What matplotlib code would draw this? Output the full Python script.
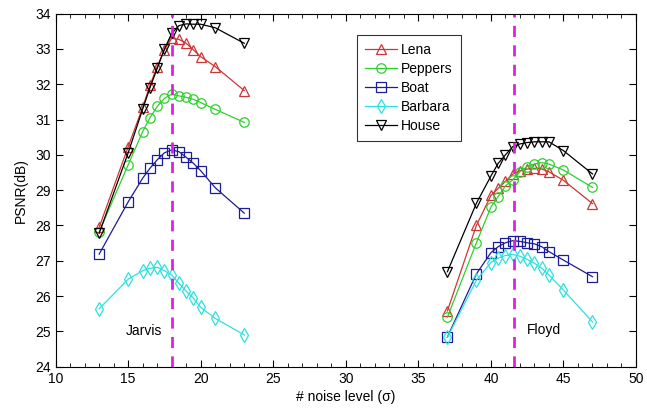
import matplotlib
matplotlib.use("Agg")
import matplotlib.pyplot as plt
from matplotlib.ticker import MultipleLocator

plt.rcParams['font.family'] = ['Liberation Sans', 'DejaVu Sans']

# noise levels for the two methods
x_jarvis = [13, 15, 16, 16.5, 17, 17.5, 18, 18.5, 19, 19.5, 20, 21, 23]
x_floyd = [37, 39, 40, 40.5, 41, 41.5, 42, 42.5, 43, 43.5, 44, 45, 47]

lena_j = [27.95, 30.23, 31.35, 31.97, 32.5, 32.98, 33.3, 33.27, 33.16, 32.97, 32.78, 32.5, 31.82]
peppers_j = [27.82, 29.72, 30.66, 31.05, 31.37, 31.6, 31.72, 31.67, 31.63, 31.57, 31.48, 31.29, 30.92]
boat_j = [27.19, 28.67, 29.34, 29.62, 29.86, 30.06, 30.14, 30.09, 29.93, 29.76, 29.55, 29.07, 28.35]
barbara_j = [25.64, 26.48, 26.72, 26.79, 26.82, 26.72, 26.6, 26.36, 26.14, 25.94, 25.68, 25.37, 24.9]
house_j = [27.78, 30.06, 31.3, 31.9, 32.45, 33.0, 33.44, 33.66, 33.71, 33.7, 33.7, 33.6, 33.16]

lena_f = [25.58, 28.0, 28.85, 29.05, 29.25, 29.45, 29.55, 29.6, 29.62, 29.6, 29.52, 29.28, 28.62]
peppers_f = [25.4, 27.51, 28.52, 28.82, 29.12, 29.29, 29.52, 29.67, 29.74, 29.78, 29.74, 29.57, 29.08]
boat_f = [24.84, 26.63, 27.23, 27.4, 27.51, 27.57, 27.55, 27.51, 27.48, 27.4, 27.26, 27.02, 26.55]
barbara_f = [24.83, 26.45, 26.95, 27.08, 27.15, 27.18, 27.13, 27.04, 26.93, 26.79, 26.6, 26.17, 25.27]
house_f = [26.69, 28.63, 29.4, 29.76, 30.0, 30.23, 30.31, 30.35, 30.37, 30.37, 30.37, 30.12, 29.46]

names = ['Lena', 'Peppers', 'Boat', 'Barbara', 'House']
jarvis = [lena_j, peppers_j, boat_j, barbara_j, house_j]
floyd = [lena_f, peppers_f, boat_f, barbara_f, house_f]
colors = ['#cc3636', '#2ed02e', '#1c1c96', '#2ee0e0', '#000000']
markers = ['^', 'o', 's', 'd', 'v']

fig = plt.figure(figsize=(6.47, 4.13), dpi=100)
ax = fig.add_axes([0.086, 0.112, 0.897, 0.855])

for name, yj, yf, c, m in zip(names, jarvis, floyd, colors, markers):
    ax.plot(x_jarvis, yj, color=c, marker=m, mfc='none', mec=c, ms=6.8, lw=0.9, mew=0.9, label=name)
    ax.plot(x_floyd, yf, color=c, marker=m, mfc='none', mec=c, ms=6.8, lw=0.9, mew=0.9)

# best noise level of each method
ax.axvline(18, color='#e020e0', ls='--', lw=2, dashes=(4, 3))
ax.axvline(41.6, color='#e020e0', ls='--', lw=2, dashes=(4, 3))

ax.text(14.8, 25.0, 'Jarvis', fontsize=10, va='center')
ax.text(42.5, 25.05, 'Floyd', fontsize=10, va='center')

ax.set_xlim(10, 50)
ax.set_ylim(24, 34)
ax.xaxis.set_major_locator(MultipleLocator(5))
ax.xaxis.set_minor_locator(MultipleLocator(1))
ax.yaxis.set_major_locator(MultipleLocator(1))
ax.tick_params(which='both', direction='in', top=True, right=True, labelsize=10)
ax.tick_params(which='major', length=5)
ax.tick_params(which='minor', length=3)
ax.set_xlabel('# noise level (σ)', fontsize=10, labelpad=3)
ax.set_ylabel('PSNR(dB)', fontsize=10, labelpad=5)

leg = ax.legend(loc='upper left', bbox_to_anchor=(0.519, 0.94), borderaxespad=0,
                fancybox=False, edgecolor='black', fontsize=10, handlelength=2.3,
                labelspacing=0.35, borderpad=0.6, handletextpad=0.3)
leg.get_frame().set_linewidth(0.8)

fig.savefig('out.png', dpi=100)
